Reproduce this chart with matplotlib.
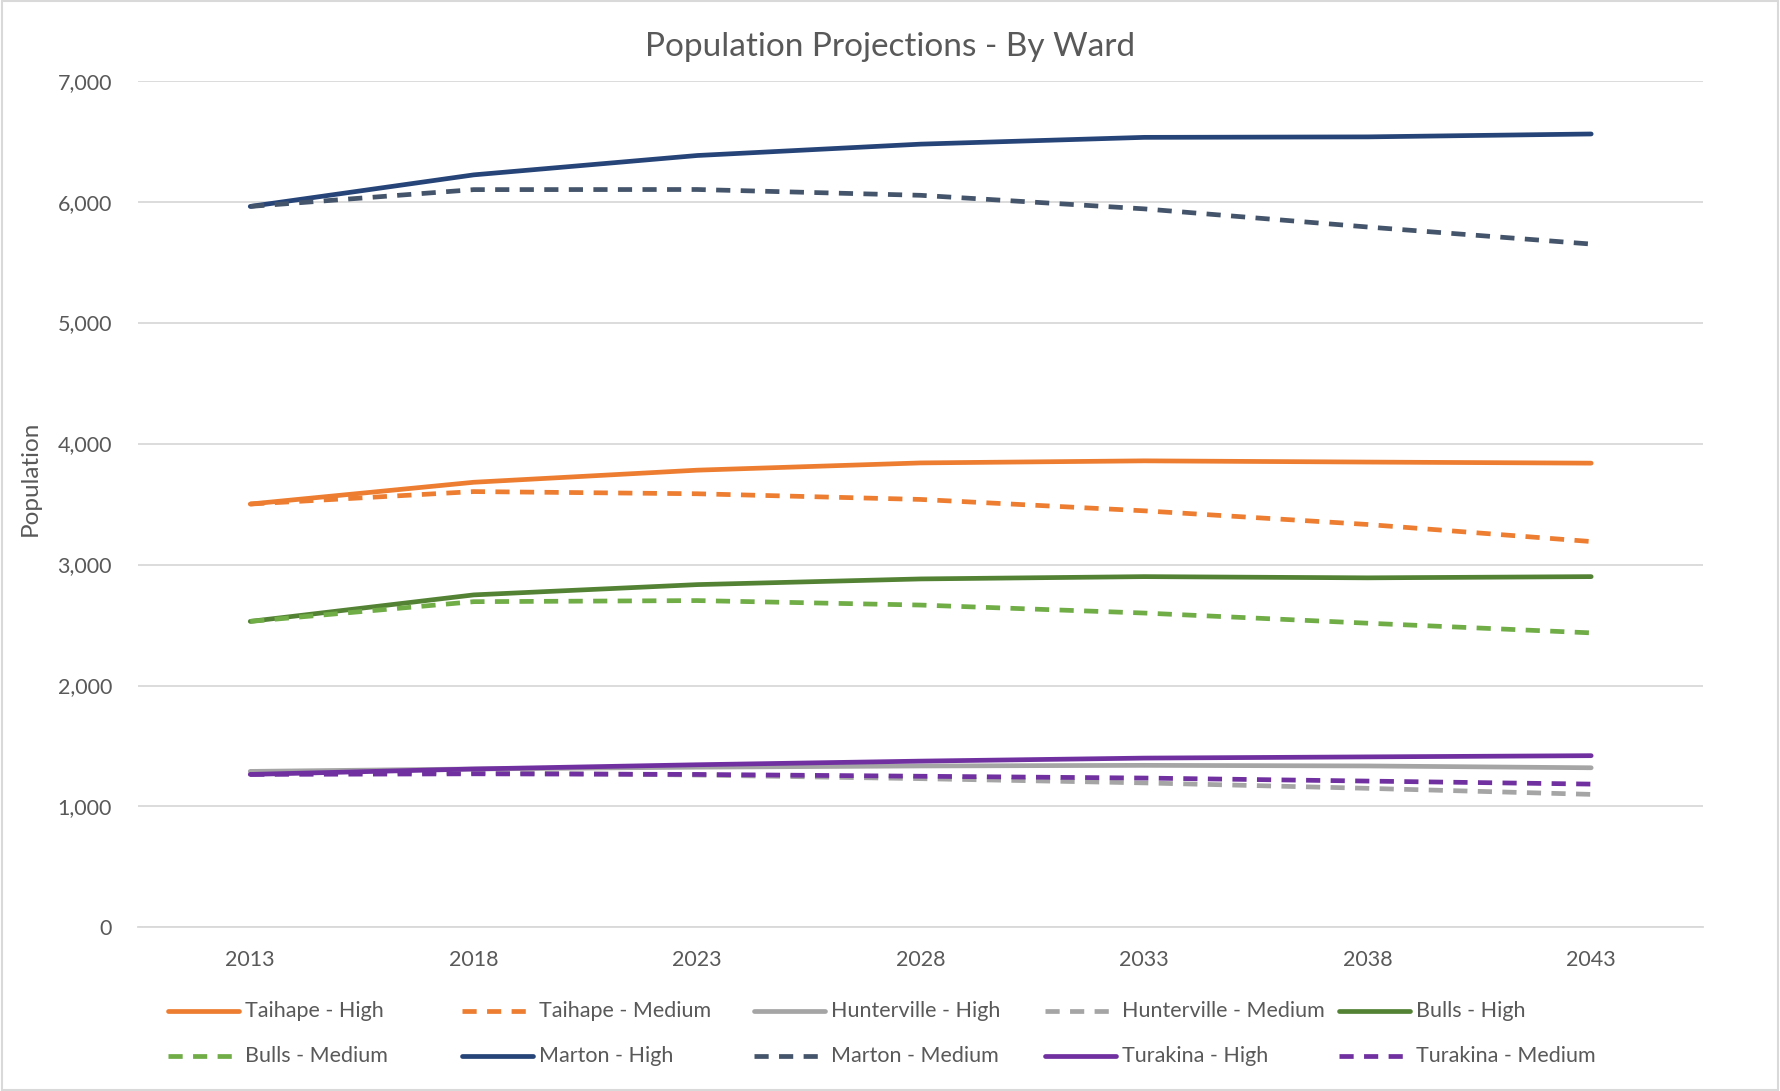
import matplotlib
matplotlib.use("Agg")
import matplotlib.pyplot as plt
from matplotlib.lines import Line2D
from matplotlib.patches import Rectangle
from matplotlib.ticker import FuncFormatter

plt.rcParams['font.family'] = ['Lato', 'DejaVu Sans']

years = ['2013', '2018', '2023', '2028', '2033', '2038', '2043']

taihape_high = [3500, 3680, 3780, 3840, 3857, 3847, 3838]
taihape_medium = [3500, 3603, 3585, 3538, 3444, 3331, 3190]
hunterville_high = [1290, 1310, 1325, 1335, 1340, 1335, 1320]
hunterville_medium = [1290, 1280, 1260, 1230, 1195, 1150, 1100]
bulls_high = [2530, 2749, 2834, 2881, 2900, 2890, 2900]
bulls_medium = [2530, 2693, 2702, 2665, 2599, 2515, 2435]
marton_high = [5960, 6221, 6381, 6475, 6531, 6535, 6559]
marton_medium = [5960, 6099, 6100, 6052, 5940, 5790, 5649]
turakina_high = [1265, 1310, 1345, 1375, 1400, 1410, 1420]
turakina_medium = [1265, 1270, 1265, 1250, 1235, 1210, 1185]

# (label, values, colour, dashed)
series = [
    ('Taihape - High', taihape_high, '#ED7D31', False),
    ('Taihape - Medium', taihape_medium, '#ED7D31', True),
    ('Hunterville - High', hunterville_high, '#A5A5A5', False),
    ('Hunterville - Medium', hunterville_medium, '#A5A5A5', True),
    ('Bulls - High', bulls_high, '#548235', False),
    ('Bulls - Medium', bulls_medium, '#70AD47', True),
    ('Marton - High', marton_high, '#264478', False),
    ('Marton - Medium', marton_medium, '#44546A', True),
    ('Turakina - High', turakina_high, '#7030A0', False),
    ('Turakina - Medium', turakina_medium, '#7030A0', True),
]

TEXT = '#595959'
GRID = '#D9D9D9'
LW = 3.4
DASH = (3.0, 2.2)
FS = 15.5

fig = plt.figure(figsize=(17.8, 10.91), dpi=100)
ax = fig.add_axes([0.0778, 0.1499, 0.8789, 0.7762])

x = list(range(len(years)))
for label, vals, color, dashed in series:
    ln, = ax.plot(x, vals, color=color, lw=LW, solid_capstyle='round',
                  dash_capstyle='butt', label=label)
    if dashed:
        ln.set_dashes(DASH)

ax.set_xlim(-0.5, len(years) - 0.5)
ax.set_ylim(0, 7000)
ax.set_yticks(range(0, 7001, 1000))
ax.yaxis.set_major_formatter(FuncFormatter(lambda v, p: f'{int(v):,}'))
ax.set_xticks(x)
ax.set_xticklabels(years)
ax.grid(axis='y', color=GRID, lw=1.3)
ax.set_axisbelow(True)
for s in ['top', 'right', 'left']:
    ax.spines[s].set_visible(False)
ax.spines['bottom'].set_color(GRID)
ax.spines['bottom'].set_linewidth(1.3)
ax.tick_params(axis='both', length=0, labelsize=FS, colors=TEXT)
ax.tick_params(axis='x', pad=16)
ax.tick_params(axis='y', pad=19)
ax.set_ylabel('Population', fontsize=17.5, color=TEXT)
ax.yaxis.set_label_coords(-0.0625, 0.53)

fig.text(0.5, 0.9565, 'Population Projections - By Ward', ha='center',
         va='center', fontsize=24, color=TEXT)

# legend laid out in Excel-style fixed columns
col_x = [168, 462, 754, 1045, 1339]
row_y = [1011, 1056]
W, H = 1780, 1091
for i, (label, vals, color, dashed) in enumerate(series):
    cx = col_x[i % 5]
    cy = row_y[i // 5]
    yf = 1 - cy / H
    ln = Line2D([cx / W, (cx + 71) / W], [yf, yf], transform=fig.transFigure,
                color=color, lw=LW, solid_capstyle='round', dash_capstyle='butt')
    if dashed:
        ln.set_dashes(DASH)
    fig.add_artist(ln)
    fig.text((cx + 77) / W, yf, label, ha='left', va='center',
             fontsize=FS, color=TEXT)

fig.add_artist(Rectangle((0.001, 0.001), 0.998, 0.998, transform=fig.transFigure,
                         fill=False, edgecolor=GRID, lw=1.5))

fig.savefig('out.png', dpi=100, facecolor='white')
